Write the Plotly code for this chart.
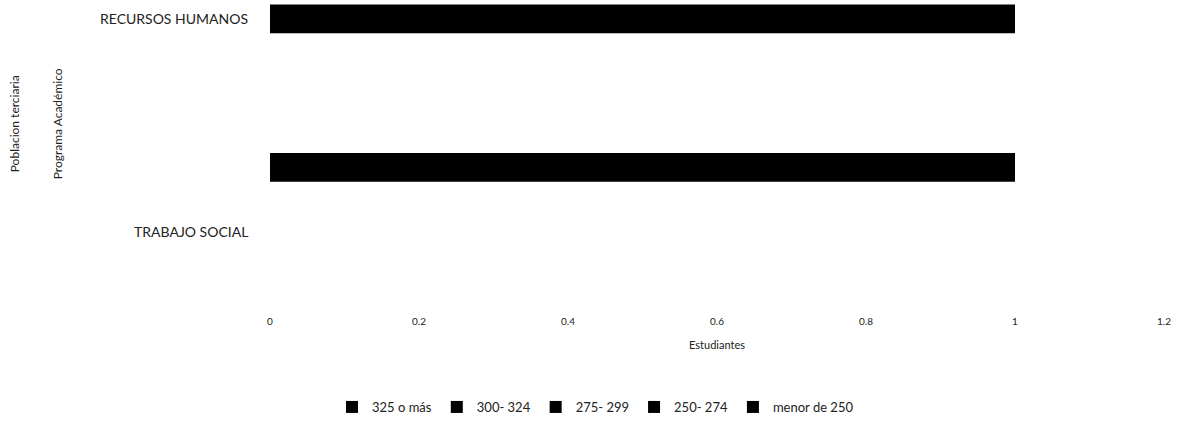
import plotly.graph_objects as go

categories = ["RECURSOS HUMANOS", "TRABAJO SOCIAL"]
series_names = ["325 o más", "300- 324", "275- 299", "250- 274", "menor de 250"]
series_values = [
    [1, 1],
    [0, 0],
    [0, 0],
    [0, 0],
    [0, 0],
]
x_ticks = [0, 0.2, 0.4, 0.6, 0.8, 1, 1.2]
x_tick_text = ["0", "0.2", "0.4", "0.6", "0.8", "1", "1.2"]

FONT = "Lato"
TXT = "#222222"

fig = go.Figure()
for name, vals in zip(series_names, series_values):
    fig.add_trace(go.Bar(
        y=categories, x=vals, name=name, orientation="h",
        marker=dict(color="#000000", line=dict(width=0)),
    ))

fig.update_layout(
    width=1183, height=422,
    margin=dict(l=270, r=19, t=2, b=123),
    paper_bgcolor="white", plot_bgcolor="white",
    barmode="group", bargap=0.033, bargroupgap=0,
    font=dict(family=FONT, size=10, color=TXT),
    showlegend=True,
    legend=dict(orientation="h", x=332 / 1183, xref="container", xanchor="left",
                y=4, yref="container", yanchor="bottom",
                font=dict(family=FONT, size=13, color=TXT),
                itemwidth=30, traceorder="normal"),
)
fig.update_xaxes(range=[0, 1.2], tickvals=x_ticks, ticktext=x_tick_text,
                 showgrid=False, zeroline=False, showline=False, ticks="",
                 ticklabelstandoff=15,
                 tickfont=dict(family=FONT, size=10, color=TXT),
                 title=dict(text="Estudiantes", font=dict(family=FONT, size=11, color=TXT), standoff=15))
fig.update_yaxes(autorange="reversed", showticklabels=False, showgrid=False,
                 zeroline=False, showline=False, ticks="")

label_shift = {"RECURSOS HUMANOS": 58, "TRABAJO SOCIAL": -7}
for c in categories:
    fig.add_annotation(x=0, xref="paper", xanchor="right", xshift=-20,
                       y=c, yref="y", yshift=label_shift[c], showarrow=False,
                       text=c, font=dict(family=FONT, size=14, color=TXT))

for txt, xs in [("Poblacion terciaria", -265), ("Programa Académico", -222)]:
    fig.add_annotation(x=0, xref="paper", xshift=xs, y=0.59, yref="paper",
                       text=txt, textangle=-90, showarrow=False,
                       font=dict(family=FONT, size=12, color=TXT))

fig.write_html("out.html", config={"displayModeBar": False},
               post_script="document.body.style.margin='0';")
